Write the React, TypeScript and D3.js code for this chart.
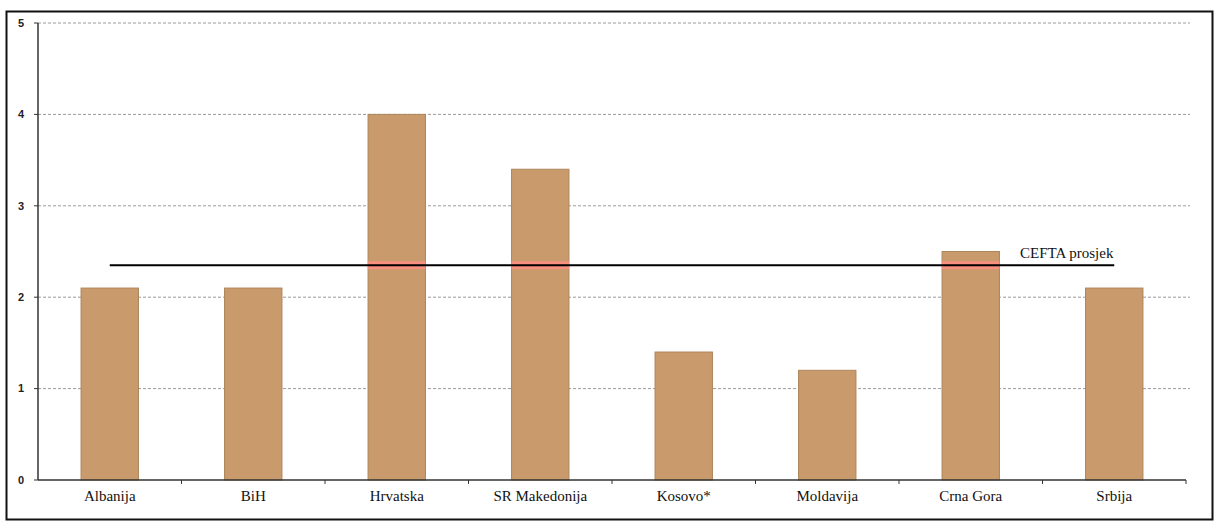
import React from "react";
import * as d3 from "d3";

// Chart data
const countries = [
  "Albanija",
  "BiH",
  "Hrvatska",
  "SR Makedonija",
  "Kosovo*",
  "Moldavija",
  "Crna Gora",
  "Srbija",
];
const values = [2.1, 2.1, 4.0, 3.4, 1.4, 1.2, 2.5, 2.1];
const ceftaAverage = 2.35;
const ceftaLabel = "CEFTA prosjek";
const yTicks = [0, 1, 2, 3, 4, 5];

const W = 1214;
const H = 523;
const plot = { left: 38, right: 1186, top: 23, bottom: 480 };
const SERIF = "Liberation Serif, Times New Roman, DejaVu Serif, serif";

export default function App() {
  const x = d3
    .scaleBand<string>()
    .domain(countries)
    .range([plot.left, plot.right])
    .paddingInner(0.6)
    .paddingOuter(0.3);
  const band = d3.scaleBand<string>().domain(countries).range([plot.left, plot.right]);
  const y = d3.scaleLinear().domain([0, 5]).range([plot.bottom, plot.top]);

  const centers = countries.map((c) => (x(c) as number) + x.bandwidth() / 2);
  const avgY = y(ceftaAverage);

  return (
    <svg
      width={W}
      height={H}
      style={{ position: "absolute", left: 0, top: 0, background: "#fff" }}
    >
      {/* outer frame */}
      <rect x={6.5} y={11.5} width={1206} height={508} fill="none" stroke="#111" strokeWidth={2} />

      {/* dashed gridlines */}
      {yTicks
        .filter((t) => t > 0)
        .map((t) => (
          <line
            key={"g" + t}
            x1={plot.left}
            x2={plot.right + 4}
            y1={y(t)}
            y2={y(t)}
            stroke="#9a9a9a"
            strokeWidth={1}
            strokeDasharray="3,2"
          />
        ))}

      {/* bars */}
      {countries.map((c, i) => (
        <rect
          key={c}
          x={x(c)}
          y={y(values[i])}
          width={x.bandwidth()}
          height={plot.bottom - y(values[i])}
          fill="#c99b6c"
          stroke="#ad8559"
          strokeWidth={1}
        />
      ))}

      {/* highlight where the average line crosses taller bars */}
      {countries.map((c, i) =>
        values[i] > ceftaAverage ? (
          <rect
            key={"h" + c}
            x={x(c)}
            y={avgY - 4}
            width={x.bandwidth()}
            height={8}
            fill="#f7907e"
          />
        ) : null
      )}

      {/* CEFTA average line */}
      <line
        x1={centers[0]}
        x2={centers[centers.length - 1]}
        y1={avgY}
        y2={avgY}
        stroke="#000"
        strokeWidth={2}
      />
      <text x={1020} y={avgY - 7} fontFamily={SERIF} fontSize={15} fill="#111">
        {ceftaLabel}
      </text>

      {/* y axis */}
      <line x1={plot.left} x2={plot.left} y1={plot.top} y2={plot.bottom} stroke="#333" strokeWidth={1.5} />
      {yTicks.map((t) => (
        <g key={"y" + t}>
          <line x1={plot.left - 4} x2={plot.left} y1={y(t)} y2={y(t)} stroke="#333" strokeWidth={1} />
          <text
            x={21}
            y={y(t)}
            dy="0.35em"
            textAnchor="middle"
            fontFamily="Liberation Sans, Arial, sans-serif"
            fontWeight="bold"
            fontSize={11}
            fill="#222"
          >
            {t}
          </text>
        </g>
      ))}

      {/* x axis */}
      <line x1={plot.left} x2={plot.right} y1={plot.bottom} y2={plot.bottom} stroke="#333" strokeWidth={1.5} />
      {countries.map((c) => (
        <line
          key={"t" + c}
          x1={(band(c) as number) + band.bandwidth()}
          x2={(band(c) as number) + band.bandwidth()}
          y1={plot.bottom}
          y2={plot.bottom + 4}
          stroke="#333"
          strokeWidth={1}
        />
      ))}
      {countries.map((c, i) => (
        <text
          key={"l" + c}
          x={centers[i]}
          y={plot.bottom + 21}
          textAnchor="middle"
          fontFamily={SERIF}
          fontSize={15}
          fill="#111"
        >
          {c}
        </text>
      ))}
    </svg>
  );
}
